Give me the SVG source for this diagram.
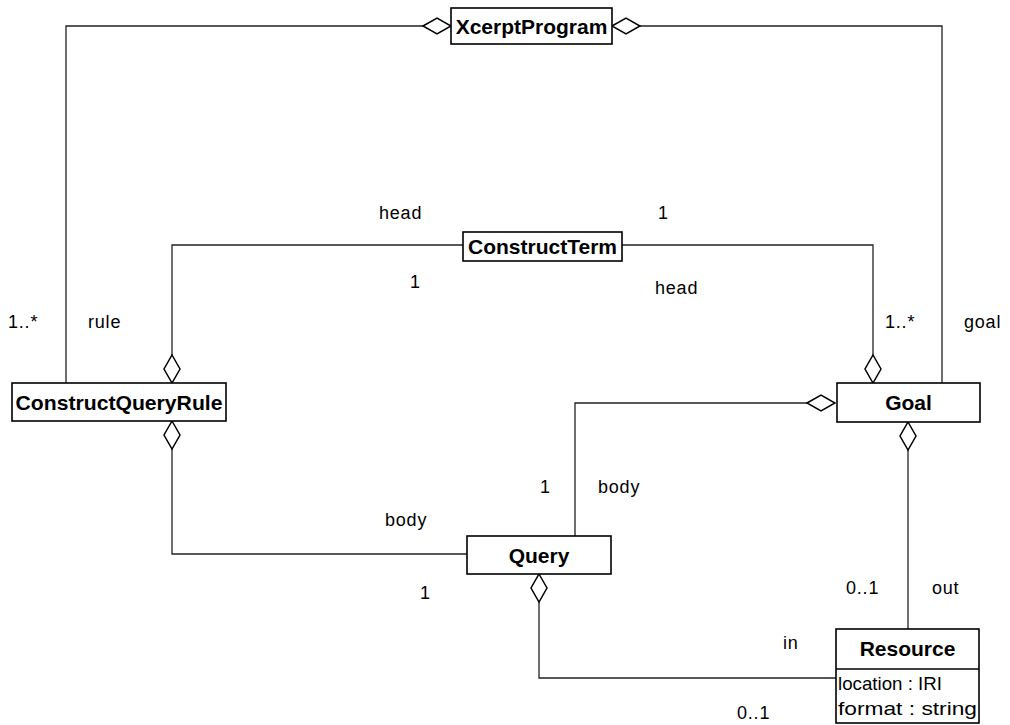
<svg xmlns="http://www.w3.org/2000/svg" width="1010" height="725" viewBox="0 0 1010 725">
  <style>
    .box { fill: #ffffff; stroke: #000000; stroke-width: 1.6; }
    .line { fill: none; stroke: #222222; stroke-width: 1.3; }
    .agg { fill: #ffffff; stroke: #000000; stroke-width: 1.5; }
    .name { font-family: "Liberation Sans", Arial, sans-serif; font-weight: bold; font-size: 21px; text-anchor: middle; fill: #000; }
    .lbl { font-family: "Liberation Sans", Arial, sans-serif; font-size: 18px; letter-spacing: 0.8px; fill: #000; }
    .attr { font-family: "Liberation Sans", Arial, sans-serif; font-size: 19px; fill: #000; }
  </style>
  <defs>
    <!-- aggregation diamond, 28 long, tip at origin -->
    <polygon id="dia-h" class="agg" points="0,0 14,-8 28,0 14,8"/>
    <polygon id="dia-v" class="agg" points="0,0 8,14 0,28 -8,14"/>
  </defs>

  <rect width="1010" height="725" fill="#ffffff"/>

  <g id="connectors">
    <path class="line" d="M423,26 H66 V383"/>
    <path class="line" d="M640,26 H942 V383"/>
    <path class="line" d="M463,245 H172 V355"/>
    <path class="line" d="M622,245 H873 V355"/>
    <path class="line" d="M172,449 V554 H467"/>
    <path class="line" d="M807,403 H575 V536"/>
    <path class="line" d="M908,450 V629"/>
    <path class="line" d="M539,602 V678 H836"/>
    <use href="#dia-h" x="423" y="26"/>
    <use href="#dia-h" x="612" y="26"/>
    <use href="#dia-v" x="172" y="355"/>
    <use href="#dia-v" x="873" y="355"/>
    <use href="#dia-v" x="172" y="421"/>
    <use href="#dia-h" x="807" y="403"/>
    <use href="#dia-v" x="908" y="422"/>
    <use href="#dia-v" x="539" y="574"/>
  </g>

  <g id="XcerptProgram">
    <rect class="box" x="451" y="8" width="161" height="36"/>
    <text class="name" x="531.5" y="34">XcerptProgram</text>
  </g>

  <g id="ConstructTerm">
    <rect class="box" x="463" y="232" width="159" height="29"/>
    <text class="name" x="542.5" y="254">ConstructTerm</text>
  </g>

  <g id="ConstructQueryRule">
    <rect class="box" x="12" y="383" width="214" height="38"/>
    <text class="name" x="119" y="410" textLength="207" lengthAdjust="spacingAndGlyphs">ConstructQueryRule</text>
  </g>

  <g id="Goal">
    <rect class="box" x="837" y="383" width="143" height="39"/>
    <text class="name" x="908.5" y="410">Goal</text>
  </g>

  <g id="Query">
    <rect class="box" x="467" y="536" width="144" height="38"/>
    <text class="name" x="539" y="563">Query</text>
  </g>

  <g id="Resource">
    <rect class="box" x="836" y="629" width="143" height="94"/>
    <line class="box" x1="836" y1="669" x2="979" y2="669"/>
    <text class="name" x="907.5" y="656">Resource</text>
    <text class="attr" x="838" y="690" textLength="104" lengthAdjust="spacingAndGlyphs">location : IRI</text>
    <text class="attr" x="838" y="715" textLength="139" lengthAdjust="spacingAndGlyphs">format : string</text>
  </g>

  <g id="labels">
    <text class="lbl" x="8" y="328">1..*</text>
    <text class="lbl" x="88" y="328">rule</text>
    <text class="lbl" x="379" y="219">head</text>
    <text class="lbl" x="658" y="219">1</text>
    <text class="lbl" x="410" y="288">1</text>
    <text class="lbl" x="655" y="294">head</text>
    <text class="lbl" x="885" y="328">1..*</text>
    <text class="lbl" x="964" y="328">goal</text>
    <text class="lbl" x="540" y="493">1</text>
    <text class="lbl" x="598" y="493">body</text>
    <text class="lbl" x="385" y="526">body</text>
    <text class="lbl" x="420" y="599">1</text>
    <text class="lbl" x="846" y="594">0..1</text>
    <text class="lbl" x="932" y="594">out</text>
    <text class="lbl" x="783" y="649">in</text>
    <text class="lbl" x="737" y="719">0..1</text>
  </g>
</svg>
